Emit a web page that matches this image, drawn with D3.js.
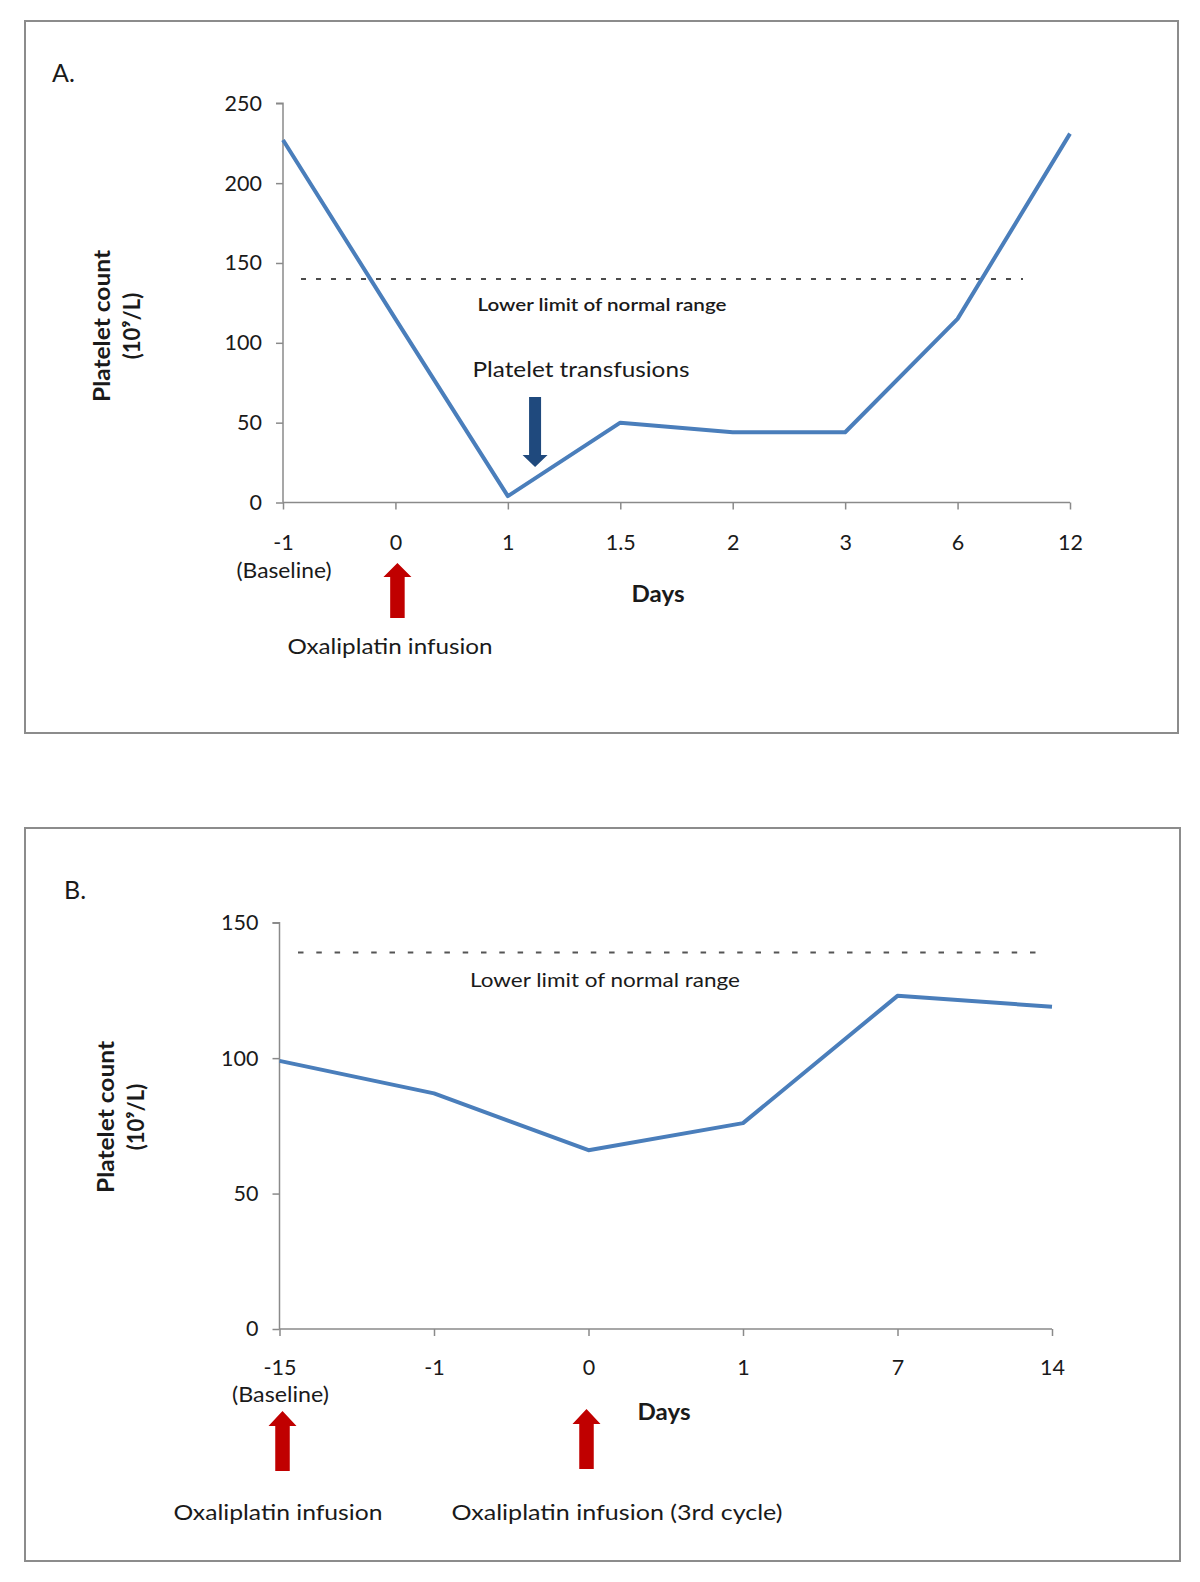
<!DOCTYPE html>
<html>
<head>
<meta charset="utf-8">
<script src="https://cdn.jsdelivr.net/npm/d3@7"></script>
<style>
  html, body { margin: 0; padding: 0; background: #fff; }
  svg { display: block; }
  text { font-family: Lato, "Open Sans", sans-serif; fill: #1a1a1a; }
</style>
</head>
<body>
<svg id="chart" width="1200" height="1582"></svg>
<script>
// ---------- DATA ----------
const daysA = ["-1", "0", "1", "1.5", "2", "3", "6", "12"];
const plateletsA = [227, 115, 4, 50, 44, 44, 115, 231];
const yTicksA = [0, 50, 100, 150, 200, 250];
const lowerLimitA = 140;

const daysB = ["-15", "-1", "0", "1", "7", "14"];
const plateletsB = [99, 87, 66, 76, 123, 119];
const yTicksB = [0, 50, 100, 150];
const lowerLimitB = 139;

const yTitle = ["Platelet count", "(10\u2079/L)"];
const xTitle = "Days";
const limitLabel = "Lower limit of normal range";

// ---------- DRAW ----------
const svg = d3.select("#chart");
svg.append("rect").attr("width", 1200).attr("height", 1582).attr("fill", "#fff");

const lineColor = "#4a7ebb";
const axisColor = "#8a8a8a";
const red = "#c00000";
const navy = "#1f497d";

function upArrow(g, cx, tipY, len, headW, shaftW, headH, color) {
  const p = d3.path();
  p.moveTo(cx, tipY);
  p.lineTo(cx + headW / 2, tipY + headH);
  p.lineTo(cx + shaftW / 2, tipY + headH);
  p.lineTo(cx + shaftW / 2, tipY + len);
  p.lineTo(cx - shaftW / 2, tipY + len);
  p.lineTo(cx - shaftW / 2, tipY + headH);
  p.lineTo(cx - headW / 2, tipY + headH);
  p.closePath();
  g.append("path").attr("d", p.toString()).attr("fill", color);
}
function downArrow(g, cx, tipY, len, headW, shaftW, headH, color) {
  const p = d3.path();
  p.moveTo(cx, tipY);
  p.lineTo(cx + headW / 2, tipY - headH);
  p.lineTo(cx + shaftW / 2, tipY - headH);
  p.lineTo(cx + shaftW / 2, tipY - len);
  p.lineTo(cx - shaftW / 2, tipY - len);
  p.lineTo(cx - shaftW / 2, tipY - headH);
  p.lineTo(cx - headW / 2, tipY - headH);
  p.closePath();
  g.append("path").attr("d", p.toString()).attr("fill", color);
}

function panel(cfg) {
  const g = svg.append("g");
  g.append("rect")
    .attr("x", cfg.box[0]).attr("y", cfg.box[1])
    .attr("width", cfg.box[2]).attr("height", cfg.box[3])
    .attr("fill", "none").attr("stroke", "#8c8c8c").attr("stroke-width", 2);

  g.append("text").attr("x", cfg.letterPos[0]).attr("y", cfg.letterPos[1])
    .attr("font-size", 25).attr("dominant-baseline", "middle").text(cfg.letter);

  const x = d3.scalePoint().domain(cfg.days).range(cfg.xRange).padding(0);
  const y = d3.scaleLinear().domain([0, d3.max(cfg.yTicks)]).range(cfg.yRange);

  const yAxis = g.append("g").attr("transform", `translate(${cfg.xRange[0]},0)`)
    .call(d3.axisLeft(y).tickValues(cfg.yTicks).tickSize(7).tickPadding(14).tickFormat(d3.format("d")));
  const xAxis = g.append("g").attr("transform", `translate(0,${cfg.yRange[0]})`)
    .call(d3.axisBottom(x).tickSize(7).tickPadding(cfg.xPad));
  [yAxis, xAxis].forEach(ax => {
    ax.select(".domain").attr("stroke", axisColor).attr("stroke-width", 1.5);
    ax.selectAll(".tick line").attr("stroke", axisColor).attr("stroke-width", 1.5);
    ax.selectAll(".tick text").attr("font-size", 21.5).attr("fill", "#1a1a1a")
      .attr("font-family", "Lato, sans-serif");
  });
  yAxis.select(".domain").attr("d", `M-7,${y(d3.max(cfg.yTicks))}H0V${cfg.yRange[0]}`);
  xAxis.select(".domain").attr("d", `M${cfg.xRange[0]},0H${cfg.xRange[1]}`);

  g.append("text").attr("x", x(cfg.days[0]) + 1).attr("y", cfg.baselineY)
    .attr("text-anchor", "middle").attr("dominant-baseline", "middle")
    .attr("font-size", 21).attr("textLength", cfg.baselineLen).attr("lengthAdjust", "spacingAndGlyphs")
    .text("(Baseline)");

  g.append("line")
    .attr("x1", cfg.dashX[0]).attr("x2", cfg.dashX[1])
    .attr("y1", y(cfg.limit)).attr("y2", y(cfg.limit))
    .attr("stroke", cfg.dashColor).attr("stroke-width", cfg.dashWidth)
    .attr("stroke-dasharray", cfg.dashArray);
  g.append("text").attr("x", cfg.limitText[0]).attr("y", cfg.limitText[1])
    .attr("text-anchor", "middle").attr("dominant-baseline", "middle")
    .attr("font-size", cfg.limitSize).attr("font-weight", cfg.limitWeight)
    .attr("textLength", cfg.limitLen).attr("lengthAdjust", "spacingAndGlyphs")
    .text(limitLabel);

  const line = d3.line().x((d, i) => x(cfg.days[i])).y(d => y(d));
  g.append("path").datum(cfg.values)
    .attr("d", line).attr("fill", "none")
    .attr("stroke", lineColor).attr("stroke-width", 4)
    .attr("stroke-linejoin", "round");

  g.append("text").attr("x", cfg.daysPos[0]).attr("y", cfg.daysPos[1])
    .attr("text-anchor", "middle").attr("dominant-baseline", "middle")
    .attr("font-size", 23).attr("font-weight", "bold")
    .attr("textLength", 53).attr("lengthAdjust", "spacingAndGlyphs").text(xTitle);

  const yt = g.append("g").attr("transform", `translate(${cfg.yTitlePos[0]},${cfg.yTitlePos[1]}) rotate(-90)`);
  yt.append("text").attr("x", 0).attr("y", 0).attr("text-anchor", "middle")
    .attr("dominant-baseline", "middle").attr("font-size", 22).attr("font-weight", "bold")
    .attr("textLength", 152).attr("lengthAdjust", "spacingAndGlyphs")
    .text(yTitle[0]);
  yt.append("text").attr("x", 0).attr("y", 30).attr("text-anchor", "middle")
    .attr("dominant-baseline", "middle").attr("font-size", 22).attr("font-weight", "bold")
    .text(yTitle[1]);

  return { g, x, y };
}

// ---- Panel A ----
const A = panel({
  box: [25, 21, 1153, 712], letter: "A.", letterPos: [52, 76],
  days: daysA, values: plateletsA, yTicks: yTicksA, limit: lowerLimitA,
  xRange: [283, 1070], yRange: [502.5, 103.3], xPad: 25,
  baselineY: 573, baselineLen: 95, daysPos: [658, 596],
  dashX: [301, 1023], dashColor: "#111", dashWidth: 1.4, dashArray: "5,10",
  limitText: [602, 306], limitSize: 18, limitWeight: 600, limitLen: 249,
  yTitlePos: [104, 326]
});
{
  const cx = (A.x("1") + A.x("1.5")) / 2 - 29;
  downArrow(A.g, cx, 467, 70, 25, 12, 12, navy);
  A.g.append("text").attr("x", 581).attr("y", 371).attr("text-anchor", "middle")
    .attr("dominant-baseline", "middle").attr("font-size", 22)
    .attr("textLength", 217).attr("lengthAdjust", "spacingAndGlyphs")
    .text("Platelet transfusions");
  upArrow(A.g, A.x("0") + 2, 563, 55, 28, 14.5, 14, red);
  A.g.append("text").attr("x", 390).attr("y", 648).attr("text-anchor", "middle")
    .attr("dominant-baseline", "middle").attr("font-size", 22)
    .attr("textLength", 205).attr("lengthAdjust", "spacingAndGlyphs")
    .text("Oxaliplatin infusion");
}

// ---- Panel B ----
const B = panel({
  box: [25, 828, 1155, 733], letter: "B.", letterPos: [64, 893],
  days: daysB, values: plateletsB, yTicks: yTicksB, limit: lowerLimitB,
  xRange: [279.5, 1052], yRange: [1329, 922.7], xPad: 24,
  baselineY: 1397, baselineLen: 97, daysPos: [664, 1414],
  dashX: [298, 1046], dashColor: "#555", dashWidth: 2, dashArray: "5.5,12.8",
  limitText: [605, 982], limitSize: 20, limitWeight: 400, limitLen: 270,
  yTitlePos: [108, 1117]
});
{
  upArrow(B.g, B.x("-15") + 3, 1411, 60, 28, 14.5, 15, red);
  upArrow(B.g, B.x("0") - 2, 1409, 60, 28, 14.5, 15, red);
  B.g.append("text").attr("x", 278).attr("y", 1514).attr("text-anchor", "middle")
    .attr("dominant-baseline", "middle").attr("font-size", 22)
    .attr("textLength", 209).attr("lengthAdjust", "spacingAndGlyphs")
    .text("Oxaliplatin infusion");
  B.g.append("text").attr("x", 617).attr("y", 1514).attr("text-anchor", "middle")
    .attr("dominant-baseline", "middle").attr("font-size", 22)
    .attr("textLength", 331).attr("lengthAdjust", "spacingAndGlyphs")
    .text("Oxaliplatin infusion (3rd cycle)");
}
</script>
</body>
</html>
